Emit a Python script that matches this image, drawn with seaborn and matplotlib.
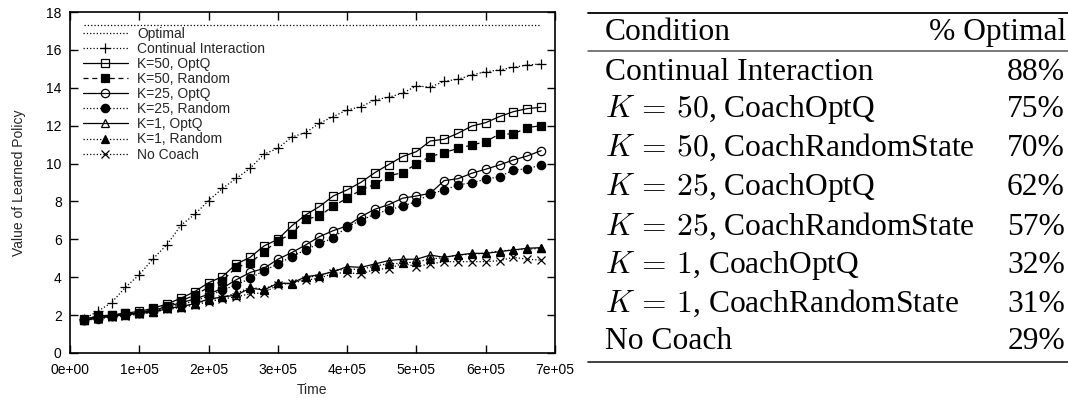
import matplotlib
matplotlib.use("Agg")
import matplotlib.pyplot as plt
from matplotlib.lines import Line2D
import seaborn as sns
import pandas as pd

# ---------------- data ----------------
time = [20000, 40000, 60000, 80000, 100000, 120000, 140000, 160000, 180000, 200000,
        220000, 240000, 260000, 280000, 300000, 320000, 340000, 360000, 380000, 400000,
        420000, 440000, 460000, 480000, 500000, 520000, 540000, 560000, 580000, 600000,
        620000, 640000, 660000, 680000]

optimal_value = 17.3

continual = [1.80, 2.20, 2.66, 3.47, 4.13, 4.98, 5.72, 6.74, 7.32, 8.04,
             8.69, 9.22, 9.75, 10.50, 10.80, 11.40, 11.63, 12.13, 12.48, 12.83,
             13.00, 13.36, 13.50, 13.71, 14.10, 14.03, 14.34, 14.45, 14.68, 14.85,
             14.94, 15.08, 15.20, 15.26]
k50_optq = [1.78, 1.95, 2.00, 2.10, 2.20, 2.36, 2.59, 2.89, 3.24, 3.71,
            4.03, 4.70, 5.05, 5.65, 6.00, 6.71, 7.29, 7.73, 8.29, 8.61,
            9.01, 9.52, 9.95, 10.37, 10.63, 11.19, 11.28, 11.60, 11.98, 12.16,
            12.48, 12.74, 12.90, 12.97]
k50_random = [1.75, 1.95, 2.00, 2.10, 2.12, 2.30, 2.50, 2.75, 3.05, 3.47,
              3.82, 4.52, 4.75, 5.35, 5.93, 6.28, 7.06, 7.23, 7.76, 8.17,
              8.61, 8.90, 9.35, 9.52, 9.98, 10.37, 10.58, 10.80, 10.98, 11.16,
              11.56, 11.56, 11.90, 12.00]
k25_optq = [1.75, 1.83, 1.95, 2.05, 2.12, 2.25, 2.45, 2.65, 2.85, 3.10,
            3.42, 3.87, 4.25, 4.47, 4.95, 5.30, 5.70, 6.14, 6.46, 6.71,
            7.20, 7.59, 7.83, 8.17, 8.29, 8.43, 9.10, 9.20, 9.49, 9.70,
            9.93, 10.19, 10.40, 10.68]
k25_random = [1.75, 1.80, 1.95, 2.05, 2.10, 2.20, 2.40, 2.55, 2.75, 3.00,
              3.33, 3.59, 3.94, 4.35, 4.70, 5.09, 5.44, 5.79, 6.06, 6.67,
              6.99, 7.34, 7.55, 7.76, 7.99, 8.40, 8.60, 8.87, 8.99, 9.17,
              9.31, 9.66, 9.72, 9.93]
k1_optq = [1.75, 1.85, 1.95, 2.00, 2.10, 2.15, 2.35, 2.45, 2.60, 2.85,
           2.95, 3.06, 3.42, 3.33, 3.68, 3.68, 4.03, 4.12, 4.29, 4.56,
           4.52, 4.70, 4.88, 4.95, 4.95, 5.17, 5.05, 5.17, 5.26, 5.26,
           5.35, 5.44, 5.53, 5.56]
k1_random = [1.75, 1.85, 1.95, 2.00, 2.10, 2.15, 2.35, 2.45, 2.60, 2.80,
             2.95, 3.15, 3.47, 3.36, 3.71, 3.64, 4.00, 4.07, 4.35, 4.42,
             4.42, 4.59, 4.72, 4.73, 4.82, 4.95, 5.05, 5.17, 5.22, 5.26,
             5.39, 5.44, 5.48, 5.53]
no_coach = [1.72, 1.80, 1.90, 1.95, 2.05, 2.15, 2.30, 2.40, 2.53, 2.71,
            2.85, 2.97, 3.12, 3.18, 3.59, 3.68, 3.85, 3.94, 4.21, 4.24,
            4.17, 4.42, 4.45, 4.73, 4.56, 4.70, 4.82, 4.82, 4.82, 4.82,
            4.87, 5.05, 4.95, 4.90]

series_labels = ["Continual Interaction", "K=50, OptQ", "K=50, Random",
                 "K=25, OptQ", "K=25, Random", "K=1, OptQ", "K=1, Random",
                 "No Coach"]
series_values = [continual, k50_optq, k50_random, k25_optq, k25_random,
                 k1_optq, k1_random, no_coach]

x_ticks = [0, 100000, 200000, 300000, 400000, 500000, 600000, 700000]
x_ticklabels = ["0e+00", "1e+05", "2e+05", "3e+05", "4e+05", "5e+05", "6e+05", "7e+05"]
y_ticks = [0, 2, 4, 6, 8, 10, 12, 14, 16, 18]

table_conditions = ["Continual Interaction", r"$K\,=\,50$, CoachOptQ",
                    r"$K\,=\,50$, CoachRandomState", r"$K\,=\,25$, CoachOptQ",
                    r"$K\,=\,25$, CoachRandomState", r"$K\,=\,1$, CoachOptQ",
                    r"$K\,=\,1$, CoachRandomState", "No Coach"]
table_percent = ["88%", "75%", "70%", "62%", "57%", "32%", "31%", "29%"]

# ---------------- styles ----------------
styles = [
    dict(linestyle=":", marker="+", mfc="none", ms=7),
    dict(linestyle="-", marker="s", mfc="none", ms=6),
    dict(linestyle=(0, (4, 3)), marker="s", mfc="k", ms=6),
    dict(linestyle="-", marker="o", mfc="none", ms=6),
    dict(linestyle=":", marker="o", mfc="k", ms=6),
    dict(linestyle="-", marker="^", mfc="none", ms=6),
    dict(linestyle=":", marker="^", mfc="k", ms=6),
    dict(linestyle=":", marker="x", mfc="none", ms=6),
]

sns.set_style("ticks")
plt.rcParams["font.family"] = ["Liberation Sans", "DejaVu Sans"]
plt.rcParams["mathtext.fontset"] = "cm"

W, H = 1068, 398
fig = plt.figure(figsize=(W / 100, H / 100), dpi=100)
ax = fig.add_axes([70 / W, (H - 353) / H, 485 / W, 341 / H])

sns.lineplot(x=[time[0], time[-1]], y=[optimal_value, optimal_value], ax=ax,
             color="k", linestyle=":", linewidth=0.9, label="Optimal")
for lab, vals, st in zip(series_labels, series_values, styles):
    df = pd.DataFrame({"Time": time, "Value": vals})
    sns.lineplot(data=df, x="Time", y="Value", ax=ax, color="k",
                 linewidth=0.9, markeredgecolor="k", markeredgewidth=0.9,
                 label=lab, **st)

ax.set_xlim(0, 700000)
ax.set_ylim(0, 18)
ax.set_xticks(x_ticks)
ax.set_xticklabels(x_ticklabels)
ax.set_yticks(y_ticks)
ax.tick_params(direction="in", top=True, right=True, length=6, width=1.0,
               labelsize=10, colors="k")
ax.tick_params(axis="x", pad=7)
ax.tick_params(axis="y", pad=6)
for sp in ax.spines.values():
    sp.set_linewidth(1.2)
    sp.set_color("k")

ax.set_xlabel("Time", fontsize=10, va="center")
ax.set_ylabel("Value of Learned Policy", fontsize=10, va="center")
ax.xaxis.set_label_coords(0.499, (353 - 390) / 341)
ax.yaxis.set_label_coords((19 - 70) / 485, 0.5)

ax.legend(loc="upper left", bbox_to_anchor=(0.027, 0.957), frameon=False,
          handlelength=3.2, handletextpad=0.7, labelspacing=0.08,
          borderpad=0, borderaxespad=0, fontsize=10)

# ---------------- table ----------------
def fx(px):
    return px / W

def fy(py):
    return 1 - py / H

tfont = dict(family=["Liberation Serif", "DejaVu Serif"], size=22.7, color="k")
fig.add_artist(Line2D([fx(588), 1.0], [fy(13.3)] * 2, color="k", lw=1.3))
fig.add_artist(Line2D([fx(588), 1.0], [fy(50.7)] * 2, color="#555555", lw=1.1))
fig.add_artist(Line2D([fx(588), 1.0], [fy(361.7)] * 2, color="#333333", lw=1.3))

fig.text(fx(605), fy(40), "Condition", ha="left", va="baseline", **tfont)
fig.text(fx(1066), fy(40), "% Optimal", ha="right", va="baseline", **tfont)
baselines = [80, 117, 156, 195, 235, 273, 312, 349]
for cond, pct, b in zip(table_conditions, table_percent, baselines):
    fig.text(fx(605), fy(b), cond, ha="left", va="baseline", **tfont)
    fig.text(fx(1065), fy(b), pct, ha="right", va="baseline", **tfont)

fig.savefig("out.png", dpi=100)
